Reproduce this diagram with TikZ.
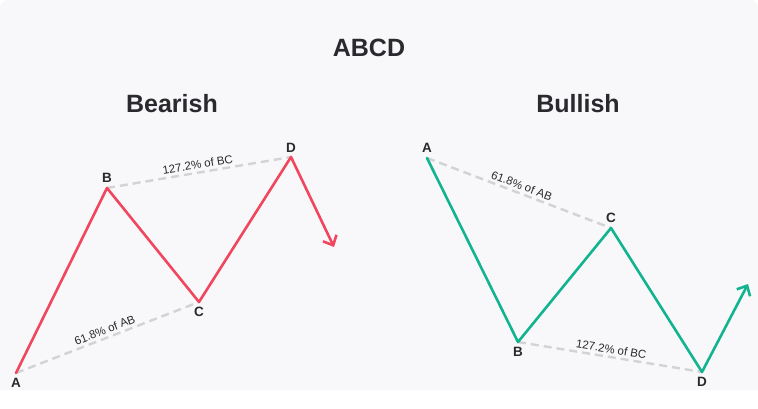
\documentclass[tikz,border=0pt]{standalone}
\usepackage{fontspec}
\setmainfont{Liberation Sans}
\usetikzlibrary{positioning,arrows.meta}
\definecolor{bgcol}{HTML}{F8F8FA}
\definecolor{txtcol}{HTML}{2A2A2E}
\definecolor{bearred}{HTML}{F0465E}
\definecolor{bullgreen}{HTML}{12B38F}
\definecolor{guidecol}{HTML}{D3D3D6}

\begin{document}
\begin{tikzpicture}[x=1pt, y=-1pt,
	leg/.style={line width=2.6pt, line join=round, line cap=round},
	guide/.style={guidecol, line width=2.4pt, dash pattern=on 8pt off 5pt},
	ratio/.style={font=\fontsize{11.5}{13}\selectfont, text=txtcol, sloped, above, inner sep=2.5pt},
	ptlabel/.style={font=\fontsize{13.5}{15}\selectfont\bfseries, text=txtcol, inner sep=0pt},
	heading/.style={font=\fontsize{25}{28}\selectfont\bfseries, text=txtcol, anchor=base},
	>={Straight Barb[length=8pt,width=15pt]}]
\useasboundingbox (0,0) rectangle (758,409);
\fill[white] (0,0) rectangle (758,409);
\fill[bgcol] (0,390) [rounded corners=8pt] -- (0,0) -- (758,0) [sharp corners] -- (758,390) -- cycle;

% titles
\node[heading] (title) at (369,57) {ABCD};
\node[heading] (bear) at (172,113) {Bearish};
\node[heading] (bull) at (578,113) {Bullish};

% bearish pattern
\coordinate (rA) at (16,373);
\coordinate (rB) at (107,188);
\coordinate (rC) at (199,302);
\coordinate (rD) at (291,157);
\coordinate (rE) at (334,247);
\draw[guide] (rA) -- node[ratio] (rAC) {61.8\% of AB} (rC);
\draw[guide] (rB) -- node[ratio] (rBD) {127.2\% of BC} (rD);
\draw[leg, bearred, ->] (rA) -- (rB) -- (rC) -- (rD) -- (rE);
\node[ptlabel, below=5pt of rA] (rAl) {A};
\node[ptlabel, above=5pt of rB] (rBl) {B};
\node[ptlabel, below=5pt of rC] (rCl) {C};
\node[ptlabel, above=4pt of rD] (rDl) {D};

% bullish pattern
\coordinate (gA) at (427,158);
\coordinate (gB) at (518,342);
\coordinate (gC) at (611,228);
\coordinate (gD) at (702,372);
\coordinate (gE) at (748,284);
\draw[guide] (gA) -- node[ratio] (gAC) {61.8\% of AB} (gC);
\draw[guide] (gB) -- node[ratio] (gBD) {127.2\% of BC} (gD);
\draw[leg, bullgreen, ->] (gA) -- (gB) -- (gC) -- (gD) -- (gE);
\node[ptlabel, above=5pt of gA] (gAl) {A};
\node[ptlabel, below=5pt of gB] (gBl) {B};
\node[ptlabel, above=5pt of gC] (gCl) {C};
\node[ptlabel, below=5pt of gD] (gDl) {D};
\end{tikzpicture}
\end{document}
